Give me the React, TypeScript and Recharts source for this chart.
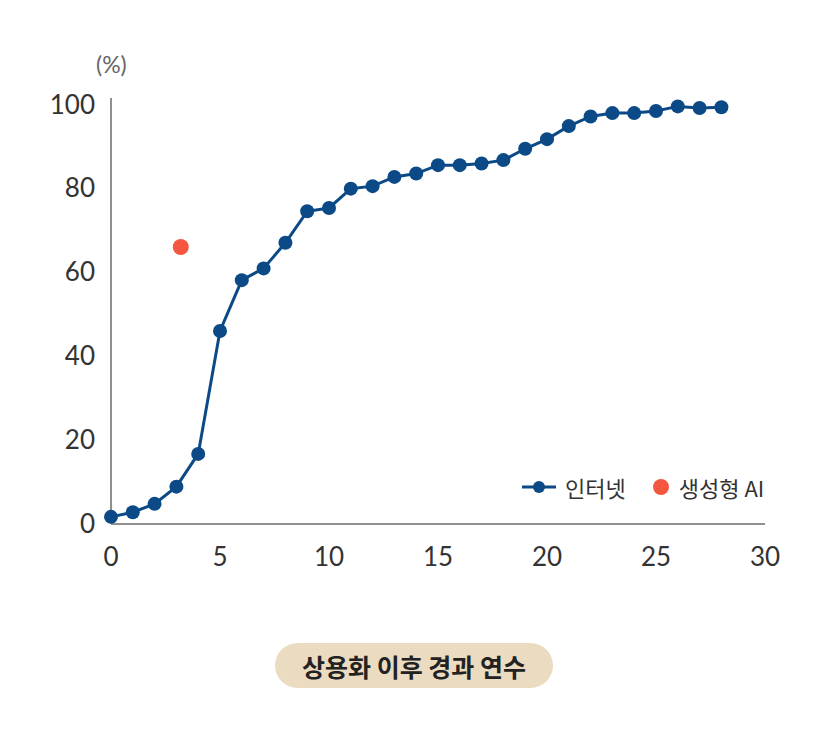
import { ComposedChart, Line, Scatter, XAxis, YAxis } from "recharts";

const years = [
  0, 1, 2, 3, 4, 5, 6, 7, 8, 9, 10, 11, 12, 13, 14, 15, 16, 17, 18, 19, 20,
  21, 22, 23, 24, 25, 26, 27, 28,
];
const internetShare = [
  1.7, 2.8, 4.8, 8.9, 16.7, 46.0, 58.1, 60.9, 67.0, 74.5, 75.3, 79.9, 80.5,
  82.7, 83.5, 85.5, 85.5, 85.9, 86.7, 89.4, 91.7, 94.8, 97.1, 97.9, 97.9,
  98.4, 99.5, 99.1, 99.3,
];
const aiYears = [3.2];
const aiShare = [66];
const xTicks = [0, 5, 10, 15, 20, 25, 30];
const yTicks = [0, 20, 40, 60, 80, 100];

const NAVY = "#0b4a86";
const RED = "#f4563f";
const FONT = "Lato, 'Noto Sans CJK KR', sans-serif";
const KR_FONT = "'Noto Sans CJK KR', 'Noto Sans', sans-serif";

const internetData = years.map((x, i) => ({ x, share: internetShare[i] }));
const aiData = aiYears.map((x, i) => ({ x, share: aiShare[i] }));

// legend kept outside the chart so it doesn't eat into the plot margins
function ChartLegend() {
  return (
    <div
      style={{
        position: "absolute",
        left: 521,
        top: 471,
        display: "flex",
        alignItems: "center",
        fontFamily: KR_FONT,
        fontSize: 22,
        color: "#333",
        whiteSpace: "nowrap",
      }}
    >
      <svg width={36} height={16} style={{ marginRight: 8 }}>
        <line x1={1} y1={8} x2={35} y2={8} stroke={NAVY} strokeWidth={3} />
        <circle cx={18} cy={8} r={6} fill={NAVY} />
      </svg>
      <span>인터넷</span>
      <svg width={18} height={18} style={{ marginLeft: 26, marginRight: 9 }}>
        <circle cx={9} cy={9} r={8} fill={RED} />
      </svg>
      <span>생성형 AI</span>
    </div>
  );
}

export default function App() {
  return (
    <div
      style={{
        position: "absolute",
        left: 0,
        top: 0,
        width: 828,
        height: 737,
        background: "#fff",
      }}
    >
      <div
        style={{
          position: "absolute",
          left: 96,
          top: 50,
          fontFamily: FONT,
          fontSize: 23,
          color: "#666",
        }}
      >
        (%)
      </div>
      <div style={{ position: "absolute", left: 0, top: 0 }}>
        <ComposedChart
          width={828}
          height={600}
          data={internetData}
          margin={{ top: 98, right: 63, bottom: 26, left: 0 }}
        >
          <XAxis
            dataKey="x"
            type="number"
            domain={[0, 30]}
            ticks={xTicks}
            tickLine={false}
            axisLine={{ stroke: "#6b6b6b", strokeWidth: 1.5 }}
            tick={{ fontSize: 26, fill: "#333", fontFamily: FONT }}
            tickMargin={18}
            height={50}
          />
          <YAxis
            type="number"
            domain={[0, 101.5]}
            ticks={yTicks}
            width={111}
            tickLine={false}
            axisLine={{ stroke: "#6b6b6b", strokeWidth: 1.5 }}
            tick={{ fontSize: 26, fill: "#333", fontFamily: FONT }}
            tickMargin={10}
          />
          <Line
            data={internetData}
            dataKey="share"
            name="인터넷"
            type="linear"
            stroke={NAVY}
            strokeWidth={3}
            dot={{ r: 7, fill: NAVY, stroke: "none" }}
            activeDot={false}
            isAnimationActive={false}
          />
          <Scatter
            data={aiData}
            dataKey="share"
            name="생성형 AI"
            fill={RED}
            shape={(p: any) => <circle cx={p.cx} cy={p.cy} r={8} fill={RED} />}
            isAnimationActive={false}
          />
        </ComposedChart>
      </div>
      <ChartLegend />
      <div
        style={{
          position: "absolute",
          left: 275,
          top: 643,
          width: 278,
          height: 45,
          borderRadius: 23,
          background: "#ebdbc0",
          display: "flex",
          alignItems: "center",
          justifyContent: "center",
          fontFamily: KR_FONT,
          fontWeight: 700,
          fontSize: 25,
          color: "#222",
          whiteSpace: "nowrap",
        }}
      >
        상용화 이후 경과 연수
      </div>
    </div>
  );
}
